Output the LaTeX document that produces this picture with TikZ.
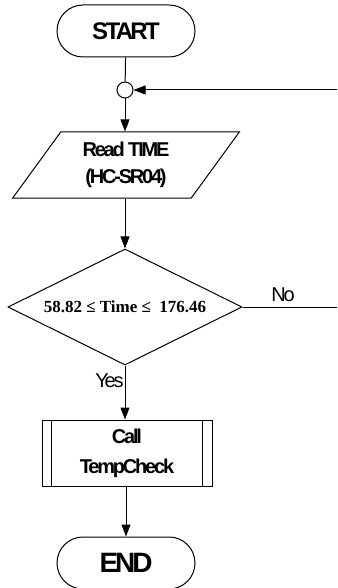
\documentclass[tikz,border=0pt]{standalone}
\usepackage{fontspec}
\setmainfont{Liberation Sans}[LetterSpace=-11]
\newfontfamily\flowserif{Liberation Serif}
\usetikzlibrary{arrows.meta, positioning, shapes.geometric}

\begin{document}
\begin{tikzpicture}[x=1pt, y=-1pt, line width=1pt,
            term/.style={draw, rounded corners=26pt, minimum width=138pt, minimum height=52pt, inner sep=0pt, font=\fontsize{24}{24}\selectfont\bfseries},
            io/.style={draw, trapezium, trapezium left angle=55, trapezium right angle=125, trapezium stretches=true,
                       minimum width=227pt, minimum height=66pt, inner sep=0pt, align=center, font=\fontsize{20}{27}\selectfont\bfseries},
            decision/.style={draw, diamond, aspect=2, minimum width=234pt, minimum height=116pt, inner sep=0pt, font=\flowserif\fontsize{17}{17}\selectfont\bfseries},
            subproc/.style={draw, minimum width=170pt, minimum height=66pt, inner sep=0pt, align=center, font=\fontsize{20}{30}\selectfont\bfseries},
            joint/.style={draw, circle, minimum size=16pt, inner sep=0pt},
            flow/.style={-{Triangle[length=12pt, width=9pt]}},
            branch/.style={font=\fontsize{20}{20}\selectfont, inner sep=0pt}
        ]
            \useasboundingbox (0,0) rectangle (337,588);

            % Blocks
            \node[term] (start) at (126, 31) {START};
            \node[joint] (c) at (125, 90) {};
            \node[io] (read) at (126, 165) {Read TIME\\(HC-SR04)};
            \node[decision] (dec) at (125, 307) {58.82 ≤ Time ≤\ \ 176.46};
            \node[subproc] (call) at (127, 453) {Call\\TempCheck};
            \draw ([xshift=10pt]call.north west) -- ([xshift=10pt]call.south west);
            \draw ([xshift=-10pt]call.north east) -- ([xshift=-10pt]call.south east);
            \node[term, font=\fontsize{28}{28}\selectfont\bfseries] (end) at (126, 563) {END};

            % Loose ends on the right
            \coordinate (back) at (337, 90);
            \coordinate (noend) at (337, 307);

            % Connectors
            \draw (start) -- (c);
            \draw[flow] (c) -- (c |- read.north);
            \draw[flow] (read.south -| dec.north) -- (dec);
            \draw[flow] (dec.south) -- node[branch, pos=0.29, anchor=east, xshift=-1pt] {Yes} (dec.south |- call.north);
            \draw[flow] (call.south -| end.north) -- (end);
            \draw[flow] (back) -- (c);
            \draw (dec.east) -- node[branch, pos=0.43, above, yshift=5pt] {No} (noend);
        \end{tikzpicture}
\end{document}
